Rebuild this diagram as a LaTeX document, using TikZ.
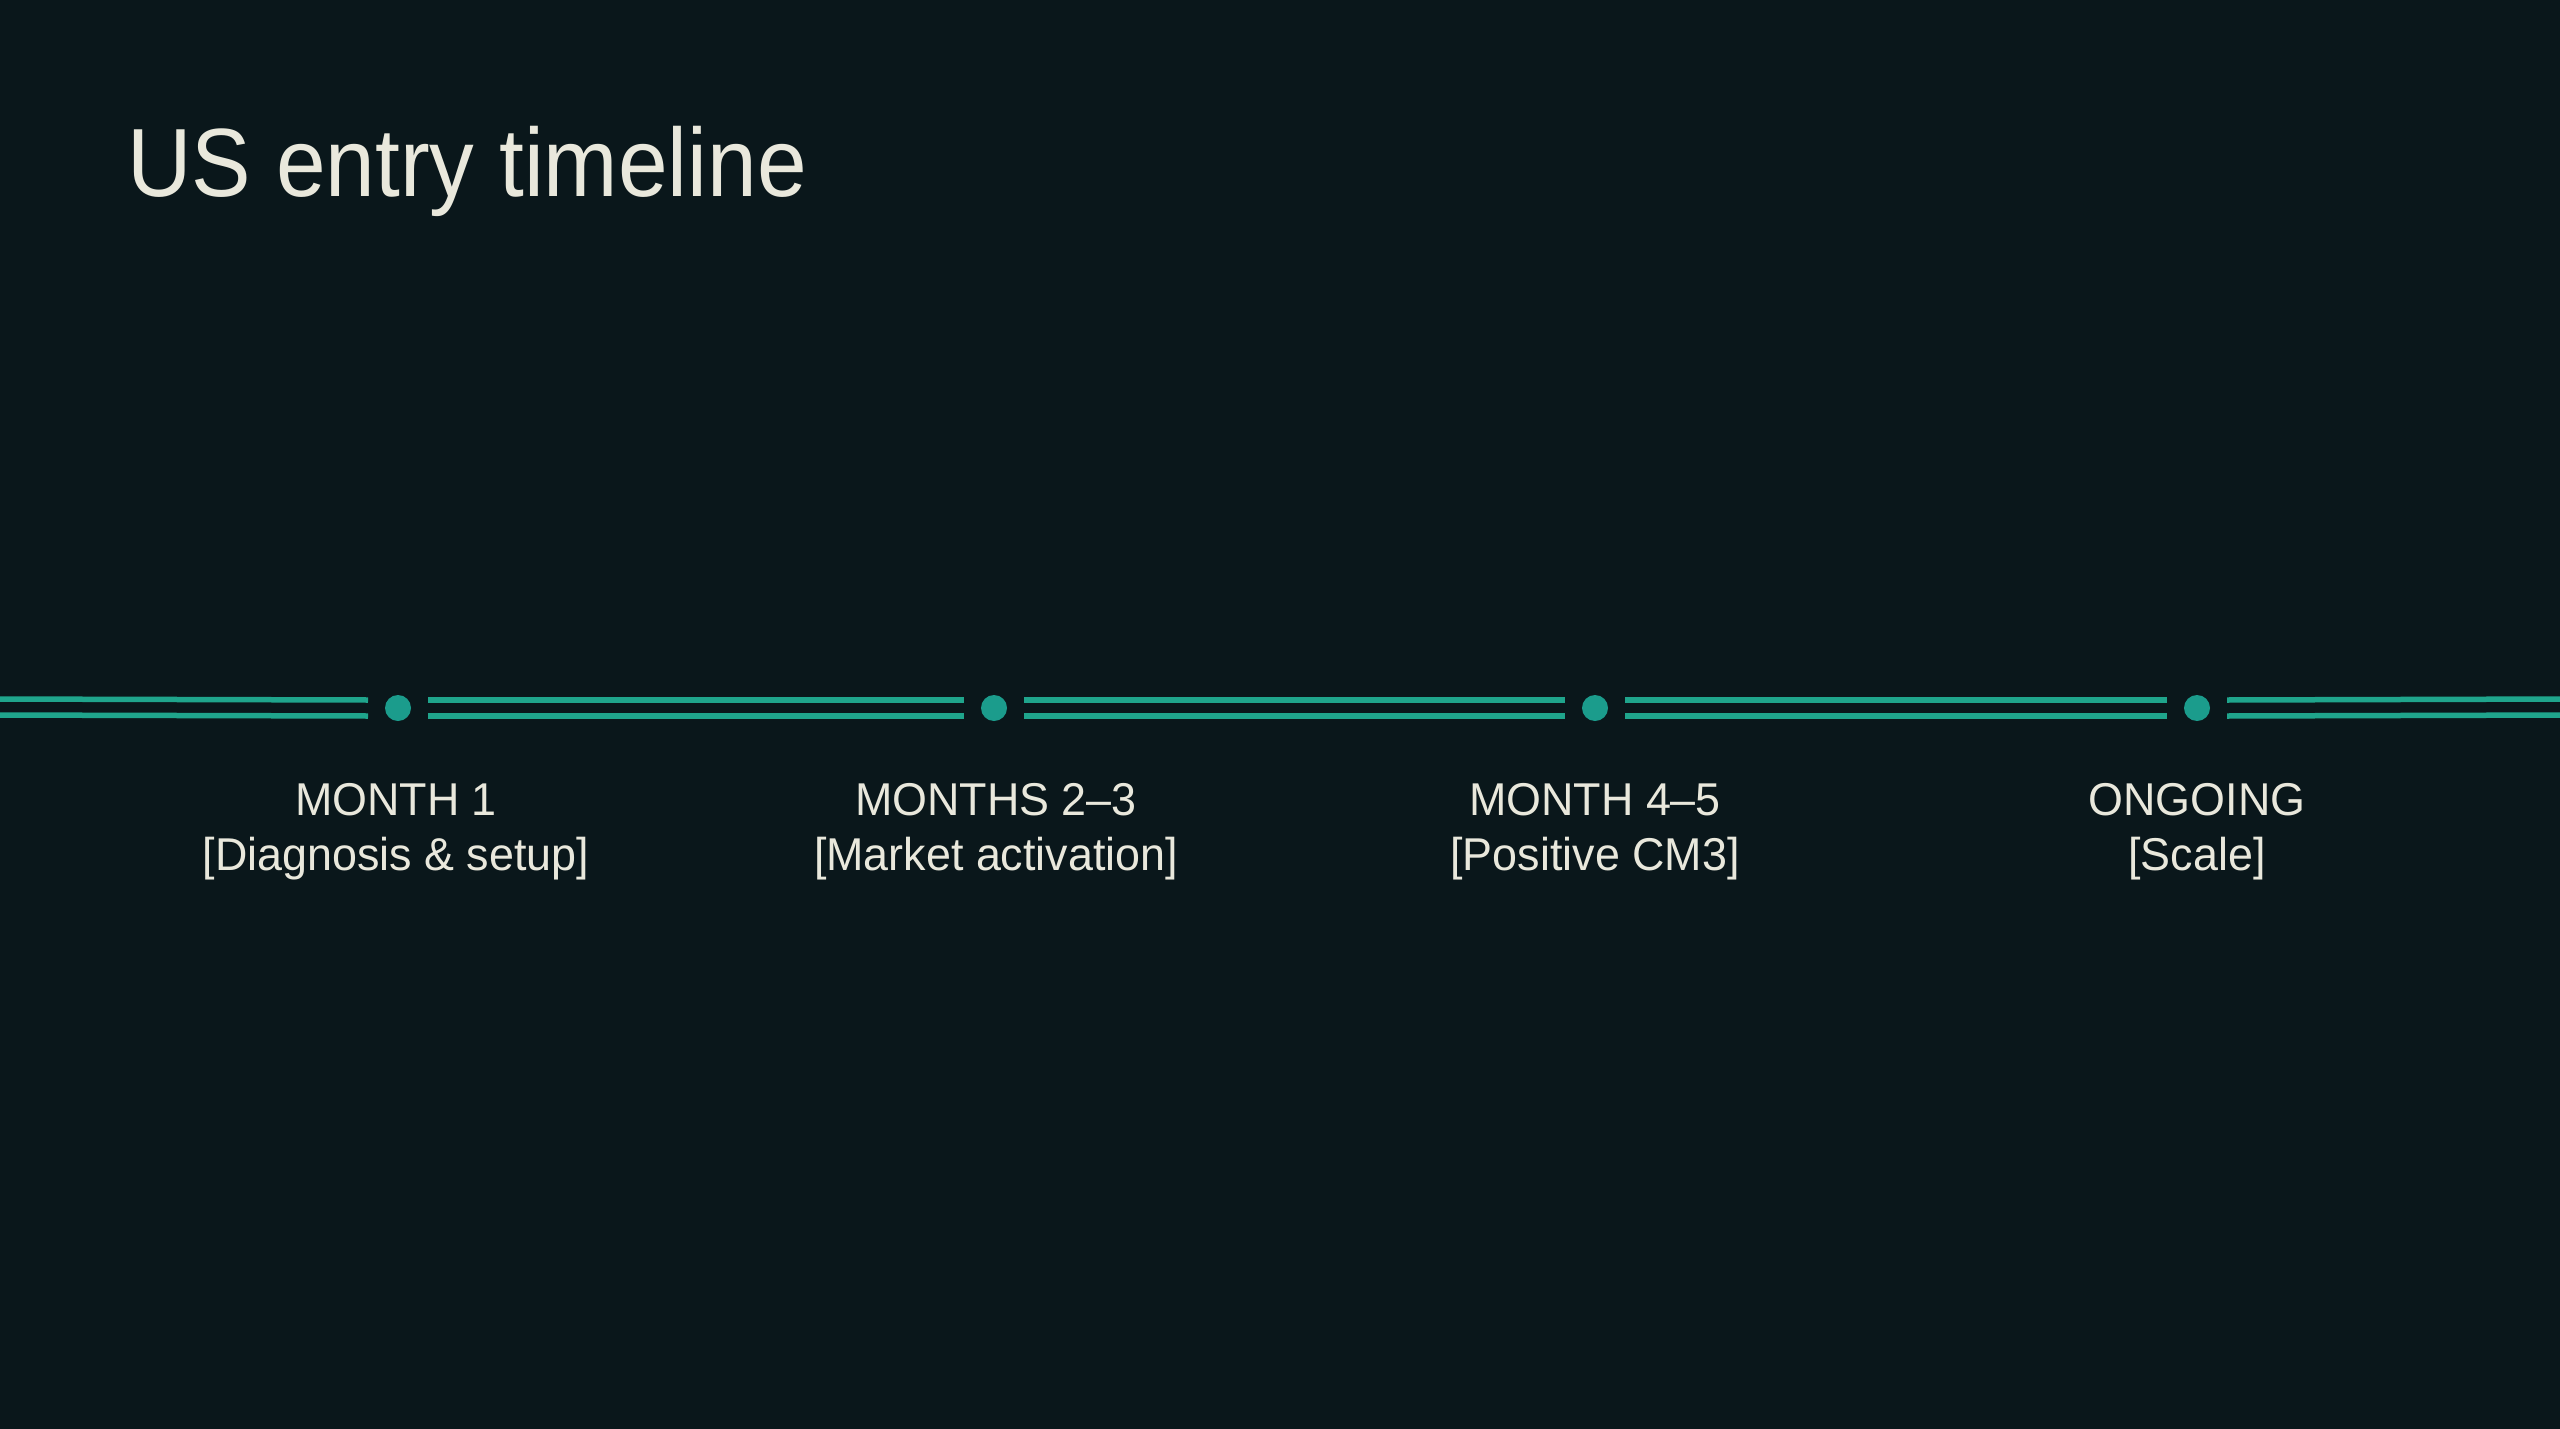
\documentclass[tikz,border=0pt]{standalone}
\usepackage{fontspec}
\setmainfont[FakeStretch=0.975]{Liberation Sans}
\newfontfamily\titlefont[FakeStretch=0.92]{Liberation Sans}
\usetikzlibrary{calc}
\definecolor{bgc}{HTML}{0A171B}
\definecolor{linec}{HTML}{1FA58C}
\definecolor{dotc}{HTML}{1B9C8C}
\definecolor{txtc}{HTML}{E9E8DC}
\tikzset{
  px/.style={x=0.5pt,y=-0.5pt},
  dotnode/.style={circle,fill=dotc,draw=none,inner sep=0pt,minimum size=13pt},
  rail/.style={draw=linec,line width=2.75pt},
  headtxt/.style={text=txtc,inner sep=0pt,font=\fontsize{23}{27.5}\selectfont,anchor=base},
  titletxt/.style={text=txtc,inner sep=0pt,font=\titlefont\fontsize{48.5}{58}\selectfont,anchor=base west}
}
\begin{document}
\begin{tikzpicture}[px]
\fill[bgc] (0,0) rectangle (2560,1429);
\useasboundingbox (0,0) rectangle (2560,1429);
\node[titletxt] (title) at (127,197) {US entry timeline};
\coordinate (L) at (-10,707);
\coordinate (R) at (2570,707);
\node[dotnode] (d1) at (398,708) {};
\node[dotnode] (d2) at (994,708) {};
\node[dotnode] (d3) at (1595,708) {};
\node[dotnode] (d4) at (2197,708) {};
\foreach \dy in {-8,8}{
  \draw[rail] ($(L)+(0,\dy)$) -- ($(d1)+(-30,\dy)$);
  \draw[rail] ($(d1)+(30,\dy)$) -- ($(d2)+(-30,\dy)$);
  \draw[rail] ($(d2)+(30,\dy)$) -- ($(d3)+(-30,\dy)$);
  \draw[rail] ($(d3)+(30,\dy)$) -- ($(d4)+(-30,\dy)$);
  \draw[rail] ($(d4)+(30,\dy)$) -- ($(R)+(0,\dy)$);
}
\node[headtxt] (m1a) at (396,815) {MONTH 1};
\node[headtxt] (m1b) at (396,870) {[Diagnosis \& setup]};
\node[headtxt] (m2a) at (996,815) {MONTHS 2–3};
\node[headtxt] (m2b) at (996,870) {[Market activation]};
\node[headtxt] (m3a) at (1595,815) {MONTH 4–5};
\node[headtxt] (m3b) at (1595,870) {[Positive CM3]};
\node[headtxt] (m4a) at (2197,815) {ONGOING};
\node[headtxt] (m4b) at (2197,870) {[Scale]};
\end{tikzpicture}
\end{document}
